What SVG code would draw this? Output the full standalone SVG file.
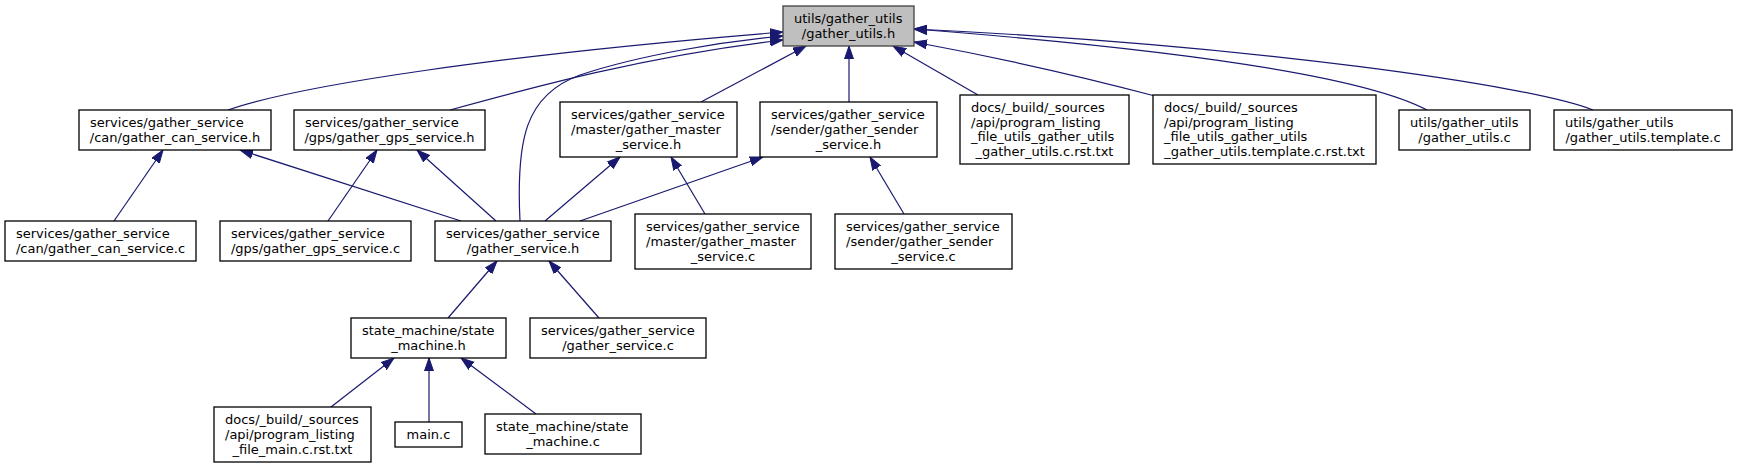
<svg xmlns="http://www.w3.org/2000/svg" width="1737" height="468" viewBox="0 0 1737 468">
<style>
.n{fill:#ffffff;stroke:#000000;stroke-width:1.3}
.r{fill:#bfbfbf;stroke:#404040;stroke-width:1.3}
text{font-family:"DejaVu Sans","Liberation Sans",sans-serif;font-size:13px;fill:#000000}
.m{text-anchor:middle}
.e{fill:none;stroke:#191970;stroke-width:1.2;marker-end:url(#arr)}
</style>
<defs>
<marker id="arr" markerUnits="userSpaceOnUse" markerWidth="14" markerHeight="11" refX="13" refY="5" orient="auto">
<path d="M0,0.5 L13,5 L0,9.5 z" fill="#191970" stroke="#191970" stroke-width="1"/>
</marker>
</defs>
<rect width="1737" height="468" fill="#ffffff"/>
<g id="edges">
<path class="e" d="M228,110 C300,85 500,55 783,32"/>
<path class="e" d="M520,221 C516,140 525,95 580,75 C640,55 720,42 783,36"/>
<path class="e" d="M450,110 C530,88 650,55 783,40"/>
<path class="e" d="M701,102 L806,46"/>
<path class="e" d="M849,102 L849,46"/>
<path class="e" d="M978,95 L893,46"/>
<path class="e" d="M1155,96 C1080,76 1000,58 914,42"/>
<path class="e" d="M1427,110 C1380,85 1250,55 914,29"/>
<path class="e" d="M1593,110 C1530,85 1250,45 914,29"/>
<path class="e" d="M114,221 L163,150"/>
<path class="e" d="M461,221 L240,150"/>
<path class="e" d="M328,221 L377,150"/>
<path class="e" d="M496,221 L417,150"/>
<path class="e" d="M545,221 L620,157"/>
<path class="e" d="M580,221 L763,157"/>
<path class="e" d="M705,214 L671,157"/>
<path class="e" d="M904,214 L870,157"/>
<path class="e" d="M448,318 L497,261"/>
<path class="e" d="M599,318 L549,261"/>
<path class="e" d="M331,407 L394,358"/>
<path class="e" d="M429,422 L429,358"/>
<path class="e" d="M536,414 L461,358"/>
</g>
<g id="root">
<rect class="r" x="783" y="6" width="131" height="40"/>
<text x="794" y="23.2">utils/gather_utils</text>
<text class="m" x="848.5" y="37.9">/gather_utils.h</text>
</g>
<g id="can_h">
<rect class="n" x="79" y="110" width="192" height="40"/>
<text x="90" y="127.2">services/gather_service</text>
<text class="m" x="175" y="141.9">/can/gather_can_service.h</text>
</g>
<g id="gps_h">
<rect class="n" x="294" y="110" width="191" height="40"/>
<text x="305" y="127.2">services/gather_service</text>
<text class="m" x="389.5" y="141.9">/gps/gather_gps_service.h</text>
</g>
<g id="master_h">
<rect class="n" x="560" y="102" width="177" height="55"/>
<text x="571" y="119.3">services/gather_service</text>
<text x="571" y="134">/master/gather_master</text>
<text class="m" x="648.5" y="148.7">_service.h</text>
</g>
<g id="sender_h">
<rect class="n" x="760" y="102" width="177" height="55"/>
<text x="771" y="119.3">services/gather_service</text>
<text x="771" y="134">/sender/gather_sender</text>
<text class="m" x="848.5" y="148.7">_service.h</text>
</g>
<g id="docs_utils_c">
<rect class="n" x="960" y="95" width="169" height="69"/>
<text x="971" y="112">docs/_build/_sources</text>
<text x="971" y="126.7">/api/program_listing</text>
<text x="971" y="141.4">_file_utils_gather_utils</text>
<text class="m" x="1044.5" y="156.1">_gather_utils.c.rst.txt</text>
</g>
<g id="docs_utils_template">
<rect class="n" x="1153" y="95" width="223" height="69"/>
<text x="1164" y="112">docs/_build/_sources</text>
<text x="1164" y="126.7">/api/program_listing</text>
<text x="1164" y="141.4">_file_utils_gather_utils</text>
<text class="m" x="1264.5" y="156.1">_gather_utils.template.c.rst.txt</text>
</g>
<g id="utils_c">
<rect class="n" x="1399" y="110" width="131" height="40"/>
<text x="1410" y="127.2">utils/gather_utils</text>
<text class="m" x="1464.5" y="141.9">/gather_utils.c</text>
</g>
<g id="utils_template_c">
<rect class="n" x="1554" y="110" width="178" height="40"/>
<text x="1565" y="127.2">utils/gather_utils</text>
<text class="m" x="1643" y="141.9">/gather_utils.template.c</text>
</g>
<g id="can_c">
<rect class="n" x="5" y="221" width="191" height="40"/>
<text x="16" y="238.2">services/gather_service</text>
<text class="m" x="100.5" y="252.9">/can/gather_can_service.c</text>
</g>
<g id="gps_c">
<rect class="n" x="220" y="221" width="191" height="40"/>
<text x="231" y="238.2">services/gather_service</text>
<text class="m" x="315.5" y="252.9">/gps/gather_gps_service.c</text>
</g>
<g id="gather_service_h">
<rect class="n" x="435" y="221" width="176" height="40"/>
<text x="446" y="238.2">services/gather_service</text>
<text class="m" x="523" y="252.9">/gather_service.h</text>
</g>
<g id="master_c">
<rect class="n" x="635" y="214" width="176" height="55"/>
<text x="646" y="231.3">services/gather_service</text>
<text x="646" y="246">/master/gather_master</text>
<text class="m" x="723" y="260.7">_service.c</text>
</g>
<g id="sender_c">
<rect class="n" x="835" y="214" width="177" height="55"/>
<text x="846" y="231.3">services/gather_service</text>
<text x="846" y="246">/sender/gather_sender</text>
<text class="m" x="923.5" y="260.7">_service.c</text>
</g>
<g id="state_machine_h">
<rect class="n" x="351" y="318" width="155" height="40"/>
<text x="362" y="335.2">state_machine/state</text>
<text class="m" x="428.5" y="349.9">_machine.h</text>
</g>
<g id="gather_service_c">
<rect class="n" x="530" y="318" width="176" height="40"/>
<text x="541" y="335.2">services/gather_service</text>
<text class="m" x="618" y="349.9">/gather_service.c</text>
</g>
<g id="docs_main">
<rect class="n" x="214" y="407" width="157" height="55"/>
<text x="225" y="424.3">docs/_build/_sources</text>
<text x="225" y="439">/api/program_listing</text>
<text class="m" x="292.5" y="453.7">_file_main.c.rst.txt</text>
</g>
<g id="main_c">
<rect class="n" x="395" y="422" width="67" height="25"/>
<text class="m" x="428.5" y="439">main.c</text>
</g>
<g id="state_machine_c">
<rect class="n" x="485" y="414" width="156" height="40"/>
<text x="496" y="431.2">state_machine/state</text>
<text class="m" x="563" y="445.9">_machine.c</text>
</g>
</svg>
